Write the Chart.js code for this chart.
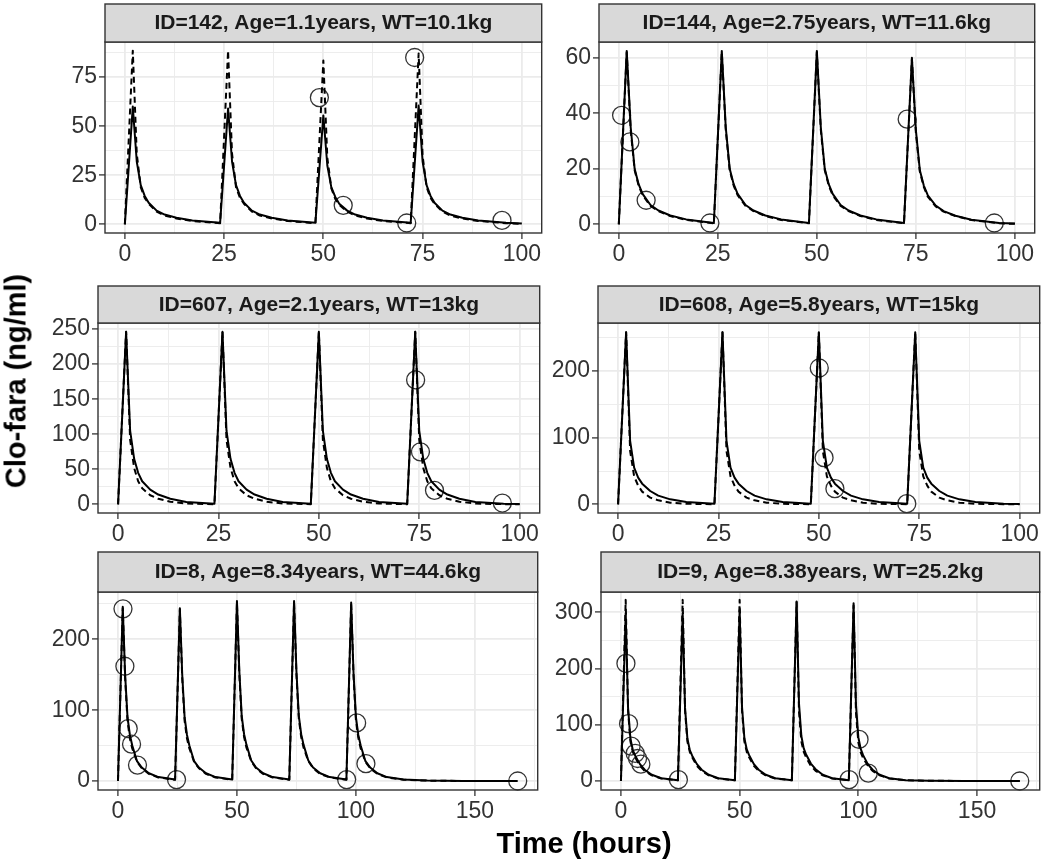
<!DOCTYPE html>
<html>
<head>
<meta charset="utf-8">
<script src="https://cdn.jsdelivr.net/npm/chart.js@4.4.1/dist/chart.umd.min.js"></script>
<style>
  html, body { margin: 0; padding: 0; background: #fff; }
  body { width: 1050px; height: 864px; position: relative; overflow: hidden;
         font-family: 'Liberation Sans', Arial, sans-serif; }
  canvas { position: absolute; }
  .ytitle { position: absolute; left: 16px; top: 381px; transform: translate(-50%, -50%) rotate(-90deg);
            font-weight: bold; font-size: 29px; white-space: nowrap; color: #000; }
  .xtitle { position: absolute; left: 584px; top: 843px; transform: translate(-50%, -50%);
            font-weight: bold; font-size: 29px; white-space: nowrap; color: #000; }
</style>
</head>
<body>
<canvas id="p142"></canvas>
<canvas id="p144"></canvas>
<canvas id="p607"></canvas>
<canvas id="p608"></canvas>
<canvas id="p8"></canvas>
<canvas id="p9"></canvas>
<div class="ytitle">Clo-fara (ng/ml)</div>
<div class="xtitle">Time (hours)</div>
<script>
// time grids (hours)
const time4Doses = [0, 2, 3, 4, 5, 6, 8, 10, 13, 17,
  24, 26, 27, 28, 29, 30, 32, 34, 37, 41,
  48, 50, 51, 52, 53, 54, 56, 58, 61, 65,
  72, 74, 75, 76, 77, 78, 80, 82, 85, 89,
  96, 100];
const time5Doses = [0, 2, 3, 4, 5, 6, 8, 10, 13, 17,
  24, 26, 27, 28, 29, 30, 32, 34, 37, 41,
  48, 50, 51, 52, 53, 54, 56, 58, 61, 65,
  72, 74, 75, 76, 77, 78, 80, 82, 85, 89,
  96, 98, 99, 100, 101, 102, 104, 106, 109, 113,
  120, 130, 145, 168];

// ID=142 : solid = pred, dashed = ipred
const pred142 = [0, 60, 32, 20, 14.5, 11, 7, 5, 3.4, 2,
  0.8, 59, 32, 20, 14.5, 11, 7, 5, 3.4, 2,
  0.8, 55.5, 30, 19, 14, 10.5, 7, 5, 3.4, 2,
  0.8, 60.5, 32, 20, 14.5, 11, 7, 5, 3.4, 2,
  0.8, 0.4];
const ipred142 = [0, 88.5, 36, 19, 13.5, 10.5, 6.5, 4.5, 3, 1.7,
  0.6, 88.5, 36, 19, 13.5, 10.5, 6.5, 4.5, 3, 1.7,
  0.6, 83.5, 34, 18.5, 13, 10, 6.5, 4.5, 3, 1.7,
  0.6, 87, 35, 19, 13.5, 10.5, 6.5, 4.5, 3, 1.7,
  0.6, 0.3];
const obsTime142 = [49, 55, 71, 73, 95];
const obsConc142 = [64.6, 9.7, 0.7, 85, 2.0];

// ID=144
const pred144 = [0, 62.5, 35, 20, 14.5, 11, 7, 5, 3.2, 1.8,
  0.5, 62.5, 35, 20, 14.5, 11, 7, 5, 3.2, 1.8,
  0.5, 62.5, 35, 20, 14.5, 11, 7, 5, 3.2, 1.8,
  0.5, 60, 34, 19.5, 14, 10.5, 6.8, 4.8, 3.1, 1.7,
  0.5, 0.3];
const ipred144 = [0, 62, 34, 19.5, 14, 10.5, 6.7, 4.8, 3, 1.6,
  0.4, 62, 34, 19.5, 14, 10.5, 6.7, 4.8, 3, 1.6,
  0.4, 62, 34, 19.5, 14, 10.5, 6.7, 4.8, 3, 1.6,
  0.4, 59.5, 33, 19, 13.5, 10, 6.5, 4.6, 3, 1.6,
  0.4, 0.2];
const obsTime144 = [0.7, 2.8, 6.9, 23, 72.8, 94.8];
const obsConc144 = [39.3, 29.7, 8.7, 0.5, 37.9, 0.5];

// ID=607
const pred607 = [0, 246, 105, 65, 45, 33, 21, 14, 8, 3.5,
  1, 246, 105, 65, 45, 33, 21, 14, 8, 3.5,
  1, 246, 105, 65, 45, 33, 21, 14, 8, 3.5,
  1, 246, 105, 65, 45, 33, 21, 14, 8, 3.5,
  1, 0.5];
const ipred607 = [0, 246, 92, 52, 33, 23, 13, 8, 3.8, 1.2,
  0.3, 246, 92, 52, 33, 23, 13, 8, 3.8, 1.2,
  0.3, 246, 92, 52, 33, 23, 13, 8, 3.8, 1.2,
  0.3, 246, 92, 52, 33, 23, 13, 8, 3.8, 1.2,
  0.3, 0.1];
const obsTime607 = [74.1, 75.3, 78.8, 95.7];
const obsConc607 = [177.5, 74.9, 20, 1.9];

// ID=608
const pred608 = [0, 258, 95, 55, 40, 31, 20, 13, 7.5, 3.5,
  1, 258, 95, 55, 40, 31, 20, 13, 7.5, 3.5,
  1, 258, 95, 55, 40, 31, 20, 13, 7.5, 3.5,
  1, 258, 95, 55, 40, 31, 20, 13, 7.5, 3.5,
  1, 0.5];
const ipred608 = [0, 258, 80, 42, 28, 19, 10, 6, 2.5, 0.8,
  0.2, 258, 80, 42, 28, 19, 10, 6, 2.5, 0.8,
  0.2, 258, 80, 42, 28, 19, 10, 6, 2.5, 0.8,
  0.2, 258, 80, 42, 28, 19, 10, 6, 2.5, 0.8,
  0.2, 0.1];
const obsTime608 = [50.1, 51.3, 54, 71.9];
const obsConc608 = [204.5, 70, 23.5, 1];

// ID=8
const pred8 = [0, 246, 150, 90, 65, 50, 28, 19, 11, 5.5,
  2, 244, 150, 90, 65, 50, 28, 19, 11, 5.5,
  2, 254, 155, 92, 66, 51, 29, 19, 11, 5.5,
  2, 254, 155, 92, 66, 51, 29, 19, 11, 5.5,
  2, 252, 152, 90, 65, 50, 28, 19, 11, 5.5,
  2, 0.6, 0.1, 0];
const ipred8 = [0, 244, 145, 85, 60, 46, 27, 18, 10, 5,
  1.8, 242, 145, 85, 60, 46, 27, 18, 10, 5,
  1.8, 252, 150, 88, 62, 47, 28, 18, 10, 5,
  1.8, 252, 150, 88, 62, 47, 28, 18, 10, 5,
  1.8, 250, 148, 86, 61, 46, 27, 18, 10, 5,
  1.8, 0.5, 0.1, 0];
const obsTime8 = [2.1, 2.9, 4.3, 5.7, 8.2, 24.6, 96.1, 100.3, 104.2, 168];
const obsConc8 = [243, 162, 74, 52, 22.5, 2, 2, 82, 24.5, 0];

// ID=9
const pred9 = [0, 298, 130, 75, 55, 45, 30, 20, 11, 5,
  1.5, 298, 130, 75, 55, 45, 30, 20, 11, 5,
  1.5, 304, 132, 76, 56, 46, 30, 20, 11, 5,
  1.5, 319, 138, 80, 58, 47, 31, 21, 11, 5,
  1.5, 316, 136, 78, 57, 46, 30, 20, 11, 5,
  1.5, 0.5, 0.1, 0];
const ipred9 = [0, 322, 125, 70, 52, 42, 27, 18, 10, 4.5,
  1.3, 322, 125, 70, 52, 42, 27, 18, 10, 4.5,
  1.3, 322, 125, 70, 52, 42, 27, 18, 10, 4.5,
  1.3, 318, 124, 70, 52, 42, 27, 18, 10, 4.5,
  1.3, 312, 122, 69, 51, 41, 27, 18, 10, 4.5,
  1.3, 0.4, 0.1, 0];
const obsTime9 = [2.1, 3.2, 4.3, 6, 7, 8.4, 24.2, 96.1, 100.3, 104.2, 168];
const obsConc9 = [209, 102, 62, 49, 40, 30, 2.4, 2.4, 74, 14, 0];

const FONT = "'Liberation Sans', Arial, sans-serif";
const YW = 75, XH = 40, PR = 8;

function axis(min, max, major, isX) {
  const half = major / 2;
  const isMajor = v => Math.abs(v / major - Math.round(v / major)) < 1e-6;
  return {
    type: 'linear', min: min, max: max,
    afterFit: s => { if (isX) s.height = XH; else s.width = YW; },
    // major ticks at multiples of `major`, minor ones halfway between
    afterBuildTicks: s => {
      const out = [];
      for (let k = Math.ceil(min / half); k * half <= max; k++) out.push({ value: k * half });
      s.ticks = out;
    },
    border: { display: false },
    grid: {
      color: '#ebebeb',
      lineWidth: c => (c.tick && isMajor(c.tick.value)) ? 1.8 : 0.9,
      tickColor: c => (c.tick && isMajor(c.tick.value)) ? '#333' : 'rgba(0,0,0,0)',
      tickWidth: 1.3,
      tickLength: 6
    },
    ticks: {
      autoSkip: false, maxRotation: 0, padding: 2, color: '#333',
      font: { family: FONT, size: 23 },
      callback: v => isMajor(v) ? String(v) : ''
    }
  };
}

const framePlugin = {
  id: 'frame',
  afterDatasetsDraw(chart, args, opts) {
    const { ctx, chartArea: a } = chart;
    const sh = chart.options.layout.padding.top;
    ctx.save();
    ctx.strokeStyle = '#333';
    ctx.lineWidth = 1.4;
    ctx.strokeRect(a.left, a.top, a.right - a.left, a.bottom - a.top);
    ctx.fillStyle = '#d9d9d9';
    ctx.fillRect(a.left, a.top - sh + 1, a.right - a.left, sh - 1);
    ctx.strokeRect(a.left, a.top - sh + 1, a.right - a.left, sh - 1);
    ctx.fillStyle = '#1a1a1a';
    ctx.font = 'bold 21px ' + FONT;
    ctx.textAlign = 'center';
    ctx.textBaseline = 'middle';
    ctx.fillText(opts.label, (a.left + a.right) / 2, a.top - sh / 2 + 1);
    ctx.restore();
  }
};

function panel(id, label, box, times, pred, ipred, obsT, obsC, xr, yr) {
  const cv = document.getElementById(id);
  const w = box.right - box.left + YW + PR;
  const h = box.bottom - box.stripTop + XH;
  cv.style.left = (box.left - YW) + 'px';
  cv.style.top = box.stripTop + 'px';
  cv.width = w; cv.height = h;
  cv.style.width = w + 'px'; cv.style.height = h + 'px';
  const line = (vals, dash) => ({
    type: 'line',
    data: times.map((t, i) => ({ x: t, y: vals[i] })),
    borderColor: '#000', borderWidth: 2, borderDash: dash,
    borderJoinStyle: 'round', pointRadius: 0, tension: 0, fill: false
  });
  new Chart(cv, {
    type: 'scatter',
    data: {
      datasets: [
        line(pred, []),
        line(ipred, [6, 4]),
        {
          type: 'scatter',
          data: obsT.map((t, i) => ({ x: t, y: obsC[i] })),
          pointRadius: 9, pointStyle: 'circle', borderWidth: 1.3,
          borderColor: '#333', backgroundColor: 'rgba(0,0,0,0)', clip: false
        }
      ]
    },
    options: {
      responsive: false, animation: false, devicePixelRatio: 1, events: [],
      layout: { padding: { top: box.top - box.stripTop, right: PR, left: 0, bottom: 0 } },
      plugins: { legend: { display: false }, tooltip: { enabled: false }, frame: { label: label } },
      scales: { x: axis(xr[0], xr[1], xr[2], true), y: axis(yr[0], yr[1], yr[2], false) }
    },
    plugins: [framePlugin]
  });
}

panel('p142', 'ID=142, Age=1.1years, WT=10.1kg', { left: 105, right: 544, stripTop: 3, top: 42, bottom: 233 },
  time4Doses, pred142, ipred142, obsTime142, obsConc142, [-5, 105, 25], [-4.4, 92.9, 25]);
panel('p144', 'ID=144, Age=2.75years, WT=11.6kg', { left: 599, right: 1037, stripTop: 3, top: 42, bottom: 233 },
  time4Doses, pred144, ipred144, obsTime144, obsConc144, [-5, 105, 25], [-3.1, 65.7, 20]);
panel('p607', 'ID=607, Age=2.1years, WT=13kg', { left: 98, right: 542, stripTop: 285, top: 323, bottom: 513 },
  time4Doses, pred607, ipred607, obsTime607, obsConc607, [-5, 105, 25], [-12.3, 258.6, 50]);
panel('p608', 'ID=608, Age=5.8years, WT=15kg', { left: 598, right: 1042, stripTop: 285, top: 323, bottom: 513 },
  time4Doses, pred608, ipred608, obsTime608, obsConc608, [-5, 105, 25], [-13, 272, 100]);
panel('p8', 'ID=8, Age=8.34years, WT=44.6kg', { left: 98, right: 540, stripTop: 551, top: 592, bottom: 790 },
  time5Doses, pred8, ipred8, obsTime8, obsConc8, [-8.4, 176.4, 50], [-12.7, 266.8, 100]);
panel('p9', 'ID=9, Age=8.38years, WT=25.2kg', { left: 601, right: 1042, stripTop: 551, top: 592, bottom: 790 },
  time5Doses, pred9, ipred9, obsTime9, obsConc9, [-8.4, 176.4, 50], [-16, 336, 100]);
</script>
</body>
</html>
